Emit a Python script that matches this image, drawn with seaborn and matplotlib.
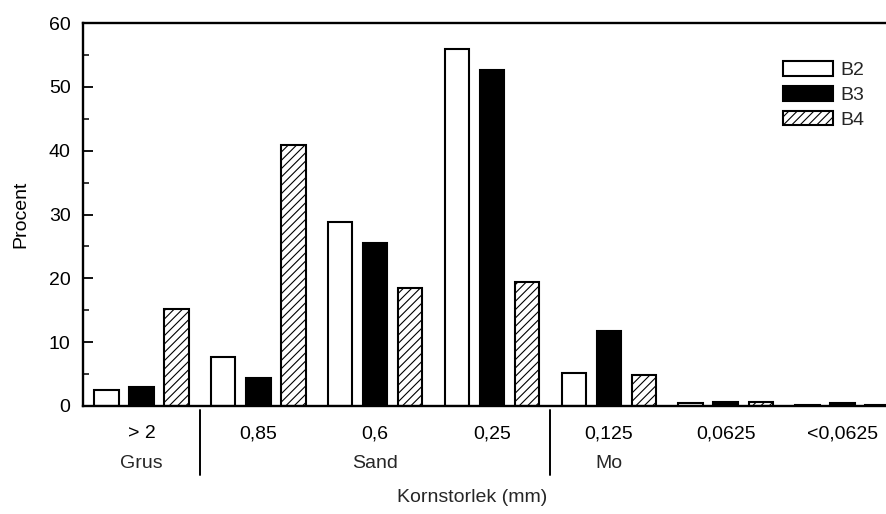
import matplotlib
matplotlib.use("Agg")
import matplotlib.pyplot as plt
import seaborn as sns
import pandas as pd
from matplotlib.patches import Patch
from matplotlib.transforms import blended_transform_factory

categories = ["> 2", "0,85", "0,6", "0,25", "0,125", "0,0625", "<0,0625"]
b2 = [2.5, 7.6, 28.9, 55.9, 5.1, 0.4, 0.1]
b3 = [2.9, 4.4, 25.5, 52.7, 11.7, 0.7, 0.4]
b4 = [15.2, 40.9, 18.5, 19.4, 4.8, 0.6, 0.2]
series = ["B2", "B3", "B4"]
groups = ["Grus", "Sand", "Mo"]
group_centers = [0, 2, 4]  # category index positions of group labels
separators = [0.5, 3.5]

rows = []
for name, vals in zip(series, [b2, b3, b4]):
    for c, v in zip(categories, vals):
        rows.append({"Kornstorlek": c, "Procent": v, "Serie": name})
df = pd.DataFrame(rows)

sns.set_theme(style="white")
plt.rcParams['font.family'] = ['Liberation Sans', 'DejaVu Sans']
plt.rcParams['hatch.linewidth'] = 0.8

FS = 14

fig = plt.figure(figsize=(8.87, 5.14), dpi=100)
ax = fig.add_axes([83/887, 108/514, (901-83)/887, 383/514])

palette = {"B2": "white", "B3": "black", "B4": "white"}
sns.barplot(data=df, x="Kornstorlek", y="Procent", hue="Serie", order=categories,
            hue_order=series, palette=palette, width=0.9, gap=0.3,
            edgecolor="black", linewidth=1.5, saturation=1, ax=ax, legend=False)

for cont, name in zip(ax.containers, series):
    for bar in cont:
        bar.set_edgecolor("black")
        if name == "B4":
            bar.set_hatch("////")

ax.set_xlim(-0.5, 6.5)
ax.set_ylim(0, 60)
ax.set_yticks(range(0, 61, 10))
ax.set_yticks(range(5, 60, 10), minor=True)
ax.tick_params(axis="y", which="major", direction="in", length=7.5, width=1.3,
               labelsize=FS, pad=9.0, left=True, colors="black")
ax.tick_params(axis="y", which="minor", direction="in", length=4.2, width=1.3, left=True)
ax.tick_params(axis="x", length=0, labelsize=FS, pad=14, colors="black")
for s in ["left", "bottom", "top", "right"]:
    ax.spines[s].set_visible(True)
    ax.spines[s].set_color("black")
    ax.spines[s].set_linewidth(1.7)

ax.set_xlabel("")
ax.set_ylabel("Procent", fontsize=FS, labelpad=14, color="black")

trans = blended_transform_factory(ax.transData, ax.transAxes)
for xs in separators:
    ax.plot([xs, xs], [-0.010, -0.180], color="black", lw=1.4, transform=trans, clip_on=False)
for g, gc in zip(groups, group_centers):
    ax.text(gc, (406-463)/383, g, transform=trans, ha="center", va="center", fontsize=FS)

fig.text(472/887, 1 - 497/514, "Kornstorlek (mm)", ha="center", va="center", fontsize=FS)

handles = [Patch(facecolor="white", edgecolor="black", linewidth=1.5),
           Patch(facecolor="black", edgecolor="black", linewidth=1.5),
           Patch(facecolor="white", edgecolor="black", linewidth=1.5, hatch="////")]
ax.legend(handles, series, loc="upper left", bbox_to_anchor=((783-83)/818, (406-61)/383),
          frameon=False, fontsize=FS, handlelength=2.57, handleheight=0.8,
          labelspacing=0.34, handletextpad=0.4, borderaxespad=0, borderpad=0)

fig.savefig("out.png", dpi=100)
